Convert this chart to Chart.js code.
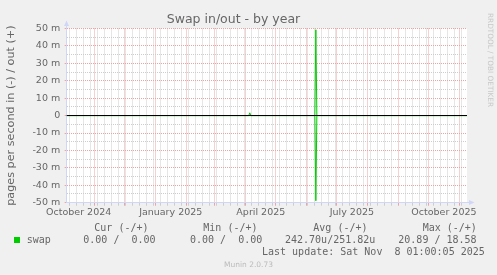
<!DOCTYPE html>
<html lang="en">
<head>
<meta charset="UTF-8">
<title>Swap in/out - by year</title>
<style>
  body { margin: 0; background: #f0f0f0; }
  #wrap { position: relative; width: 497px; height: 275px; background: #f0f0f0; overflow: hidden; }
  #chart { position: absolute; left: 0; top: 0; }
  .leg { position: absolute; font-family: 'DejaVu Sans Mono', monospace; font-size: 10px; line-height: 12px; color: #666; white-space: pre; }
  .swatch { position: absolute; left: 14px; top: 237px; width: 6px; height: 6px; background: #00cc00; }
  .mark { position: absolute; left: 485.5px; top: 13px; writing-mode: vertical-rl; font-family: 'DejaVu Sans', sans-serif; font-size: 7.3px; line-height: 9px; color: #c8c8c8; white-space: pre; }
  .munin { position: absolute; left: 0; top: 259.5px; width: 497px; text-align: center; font-family: 'DejaVu Sans', sans-serif; font-size: 7.5px; line-height: 9px; color: #bbb; }
</style>
</head>
<body>
<div id="wrap">
  <canvas id="chart" width="497" height="275"></canvas>

  <div class="leg" style="left:94.3px;top:221.5px">Cur (-/+)</div>
  <div class="leg" style="left:203.3px;top:221.5px">Min (-/+)</div>
  <div class="leg" style="left:313.3px;top:221.5px">Avg (-/+)</div>
  <div class="leg" style="left:422.7px;top:221.5px">Max (-/+)</div>

  <div class="swatch"></div>
  <div class="leg" style="left:26.7px;top:234px">swap</div>
  <div class="leg" style="left:83.3px;top:234px">0.00 /  0.00</div>
  <div class="leg" style="left:190px;top:234px">0.00 /  0.00</div>
  <div class="leg" style="left:285px;top:234px">242.70u/251.82u</div>
  <div class="leg" style="left:398.3px;top:234px">20.89 / 18.58</div>

  <div class="leg" style="left:262px;top:245.5px">Last update: Sat Nov  8 01:00:05 2025</div>

  <div class="mark">RRDTOOL / TOBI OETIKER</div>
  <div class="munin">Munin 2.0.73</div>
</div>

<script src="https://cdn.jsdelivr.net/npm/chart.js@4"></script>
<script>
    // values, milli pages per second
    const swapDates = ['2024-10-04', '2025-04-04', '2025-04-05', '2025-04-06', '2025-06-09', '2025-06-10', '2025-06-11', '2025-11-08'];
    const swapOut = [0, 0, 1.6, 0, 0, 49.3, 0, 0];
    const swapIn = [0, 0, 0, 0, 0, 48.9, 0, 0];

    // x labels (centred on the middle of the month, like rrdtool does)
    const xLabelMonths = ['2024-10', '2025-01', '2025-04', '2025-07', '2025-10'];
    const xLabels = ['October 2024', 'January 2025', 'April 2025', 'July 2025', 'October 2025'];

    // y axis
    const yTickValues = [50, 40, 30, 20, 10, 0, -10, -20, -30, -40, -50];
    const yTickLabels = ['50 m', '40 m', '30 m', '20 m', '10 m', '0', '-10 m', '-20 m', '-30 m', '-40 m', '-50 m'];

    const DAY = 86400000;
    const lastUpdate = Date.UTC(2025, 10, 8, 1, 0, 5);
    const start = lastUpdate - 400 * DAY;

    const MAJOR = '#eba3a3';
    const MINOR = '#cdcdcd';
    const AXIS = '#CFD6F8';
    const FONT = '#666666';
    const NONE = 'rgba(0,0,0,0)';

    // vertical grid: red at month starts, grey every monday
    const monthStarts = new Set();
    for (let y = 2024, m = 9; y * 12 + m <= 2025 * 12 + 10; m++) {
        if (m > 11) { m = 0; y++; }
        const t = Date.UTC(y, m, 1);
        if (t > start && t < lastUpdate) monthStarts.add(t);
    }
    const mondays = new Set();
    let d = Date.UTC(2024, 9, 7);
    while (d < lastUpdate) { if (!monthStarts.has(d)) mondays.add(d); d += 7 * DAY; }

    const labelAt = new Map();
    xLabelMonths.forEach((s, i) => {
        const [y, m] = s.split('-').map(Number);
        labelAt.set(Date.UTC(y, m - 1, 1) + 15 * DAY, xLabels[i]);
    });

    const xTicks = [...monthStarts, ...mondays, ...labelAt.keys()].sort((a, b) => a - b);
    const xGridColor = v => monthStarts.has(v) ? MAJOR : (mondays.has(v) ? MINOR : NONE);

    const yGrid = [];
    for (let v = -50; v <= 50; v += 5) yGrid.push(v);
    const yLabel = v => { const i = yTickValues.indexOf(v); return i < 0 ? '' : yTickLabels[i]; };

    const toPoints = (vals, sign) => swapDates.map((s, i) => ({ x: Date.parse(s + 'T00:00:00Z'), y: sign * vals[i] }));

    const rrdPlugin = {
        id: 'rrd',
        beforeDraw(chart) {
            const { ctx, chartArea: a } = chart;
            ctx.save();
            ctx.fillStyle = '#ffffff';
            ctx.fillRect(a.left, a.top, a.right - a.left, a.bottom - a.top);
            ctx.restore();
        },
        afterDatasetsDraw(chart) {
            // black zero rule on top of the data
            const { ctx, chartArea: a, scales } = chart;
            const y0 = Math.round(scales.y.getPixelForValue(0) - 0.5) + 0.5;
            ctx.save();
            ctx.strokeStyle = '#000';
            ctx.lineWidth = 1;
            ctx.beginPath();
            ctx.moveTo(a.left, y0);
            ctx.lineTo(a.right, y0);
            ctx.stroke();
            ctx.restore();
        },
        afterDraw(chart) {
            // axis arrows
            const { ctx, chartArea: a } = chart;
            const xa = Math.round(a.left - 0.5) + 0.5;
            const yb = Math.round(a.bottom - 0.5) + 0.5;
            ctx.save();
            ctx.strokeStyle = AXIS;
            ctx.fillStyle = AXIS;
            ctx.lineWidth = 1;
            ctx.beginPath();
            ctx.moveTo(xa, a.top); ctx.lineTo(xa, 26);
            ctx.moveTo(a.right, yb); ctx.lineTo(469, yb);
            ctx.stroke();
            ctx.beginPath();
            ctx.moveTo(xa - 2.5, 26); ctx.lineTo(xa + 2.5, 26); ctx.lineTo(xa, 20.5); ctx.closePath();
            ctx.fill();
            ctx.beginPath();
            ctx.moveTo(469, yb - 2.5); ctx.lineTo(469, yb + 2.5); ctx.lineTo(474.5, yb); ctx.closePath();
            ctx.fill();
            ctx.restore();
        }
    };

    const tickFont = { family: 'DejaVu Sans', size: 9.5, lineHeight: 1.2 };

    new Chart(document.getElementById('chart'), {
        type: 'scatter',
        data: {
            datasets: [
                { label: 'swap out', data: toPoints(swapOut, 1) },
                { label: 'swap in', data: toPoints(swapIn, -1) }
            ]
        },
        options: {
            responsive: false,
            devicePixelRatio: 1,
            animation: false,
            showLine: true,
            elements: {
                line: { borderColor: '#00cc00', borderWidth: 1, tension: 0 },
                point: { radius: 0, hoverRadius: 0 }
            },
            layout: { padding: { left: 0, right: 30, top: 0, bottom: 52.3 } },
            plugins: {
                legend: { display: false },
                tooltip: { enabled: false },
                title: {
                    display: true,
                    text: 'Swap in/out - by year',
                    color: FONT,
                    font: { family: 'DejaVu Sans', size: 12.5, weight: 'normal', lineHeight: 1.2 },
                    padding: { top: 12, bottom: 1.5 }
                }
            },
            scales: {
                x: {
                    type: 'linear',
                    min: start,
                    max: lastUpdate,
                    afterBuildTicks: s => { s.ticks = xTicks.map(v => ({ value: v })); },
                    afterFit: s => { s.height = 20; },
                    ticks: {
                        autoSkip: false, maxRotation: 0, minRotation: 0, padding: 1,
                        color: FONT, font: tickFont,
                        callback: v => labelAt.get(v) || ''
                    },
                    grid: {
                        color: c => xGridColor(c.tick ? c.tick.value : 0),
                        tickColor: c => xGridColor(c.tick ? c.tick.value : 0),
                        tickLength: 3
                    },
                    border: { color: AXIS, dash: [1, 1] }
                },
                y: {
                    type: 'linear',
                    min: -50,
                    max: 50,
                    afterBuildTicks: s => { s.ticks = yGrid.map(v => ({ value: v })); },
                    afterFit: s => { s.width = 66.7; },
                    ticks: {
                        autoSkip: false, padding: 4.5,
                        color: FONT, font: tickFont,
                        callback: v => yLabel(v)
                    },
                    grid: {
                        color: c => (c.tick && c.tick.value % 10 !== 0) ? MINOR : MAJOR,
                        tickColor: c => (c.tick && c.tick.value % 10 !== 0) ? NONE : MAJOR,
                        tickLength: 2
                    },
                    border: { color: AXIS, dash: [1, 1] },
                    title: {
                        display: true,
                        text: 'pages per second in (-) / out (+)',
                        color: FONT,
                        font: { family: 'DejaVu Sans', size: 11.2, lineHeight: 1.2 },
                        padding: { top: 4.3, bottom: 0 }
                    }
                }
            }
        },
        plugins: [rrdPlugin]
    });
</script>
</body>
</html>
